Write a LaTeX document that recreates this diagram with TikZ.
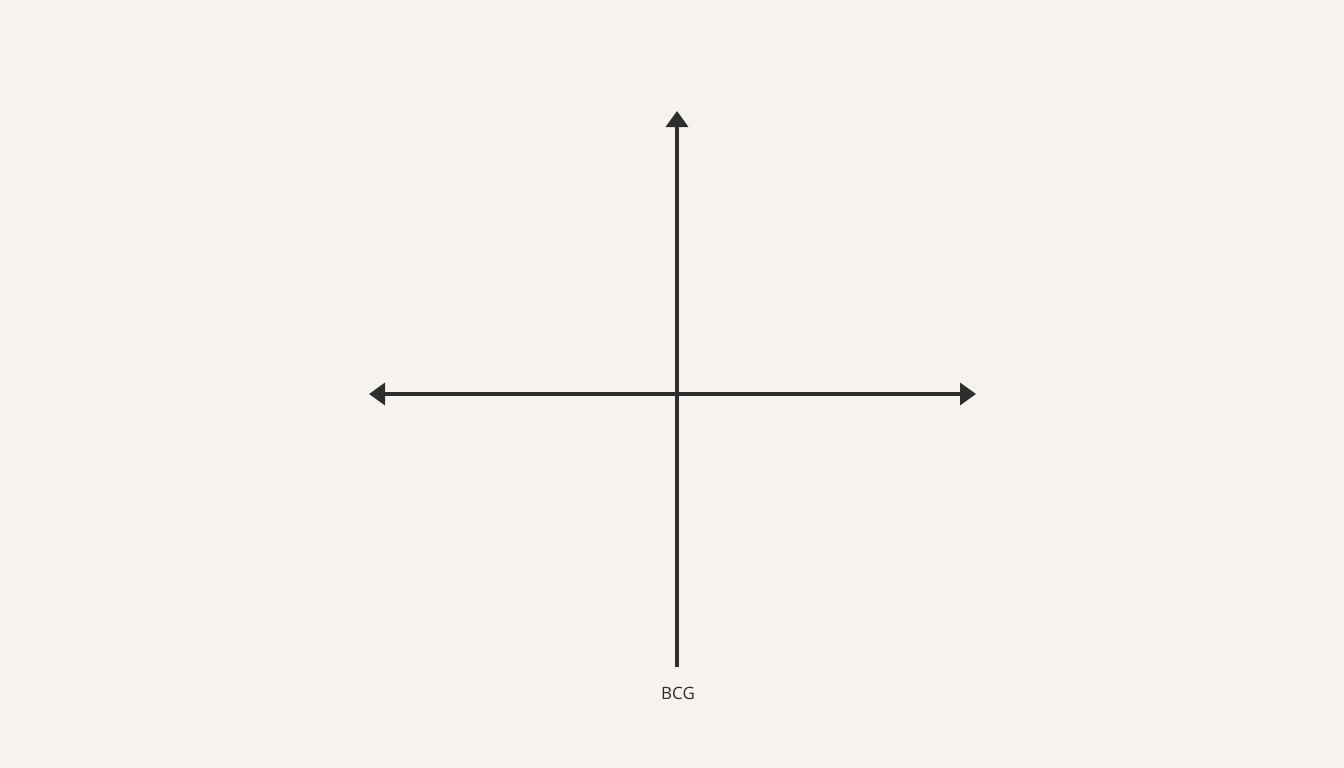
\documentclass[tikz,border=0pt]{standalone}
\usepackage{fontspec}
\setmainfont{Open Sans}
\usetikzlibrary{arrows.meta}
\definecolor{bg}{HTML}{F6F3EF}
\definecolor{ink}{HTML}{2E2E2E}
\begin{document}
\begin{tikzpicture}[x=1pt,y=-1pt,
  axis/.style={draw=ink,line width=3.5pt,-{Triangle[length=16pt,width=22pt]}},
  lbl/.style={font=\fontsize{17}{20}\selectfont,text=ink,inner sep=0pt}]
\fill[bg] (0,0) rectangle (1344,768);
\useasboundingbox (0,0) rectangle (1344,768);
\coordinate (bot) at (677,667);
\coordinate (top) at (677,111);
\coordinate (left) at (369,394);
\coordinate (right) at (976,394);
\coordinate (c) at (677,394);
\draw[axis] (bot) -- (top);
\draw[axis] (c) -- (left);
\draw[axis] (c) -- (right);
\node[lbl] (bcg) at (678,693) {BCG};
\end{tikzpicture}
\end{document}
